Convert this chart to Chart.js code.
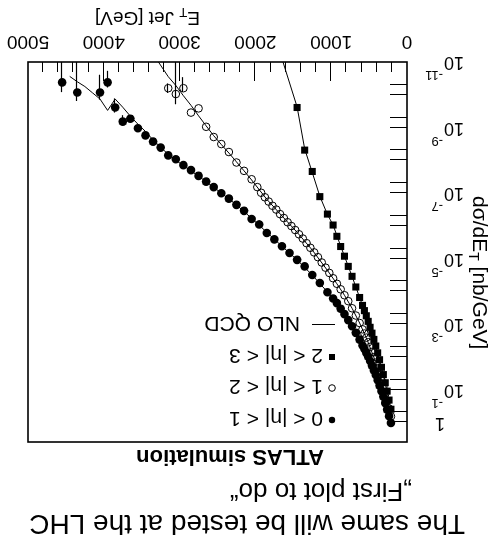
<!DOCTYPE html>
<html>
<head>
<meta charset="utf-8">
<title>Inclusive jet cross-section</title>
<script src="https://cdn.jsdelivr.net/npm/chart.js@4.4.1/dist/chart.umd.min.js"></script>
<style>
html,body{margin:0;padding:0;background:#fff;overflow:hidden;}
#wrap{position:absolute;left:0;top:0;width:493px;height:549px;transform:rotate(180deg);}
#c{display:block;}
</style>
</head>
<body>
<div id="wrap"><canvas id="c" width="493" height="549"></canvas></div>
<script>
// ---- data (E_T in GeV, dsigma/dE_T in nb/GeV) ----
const etCentral = [212,237,262,287,312,337,362,387,412,437,462,487,512,537,562,587,
  625,675,725,775,825,875,925,975,
  1050,1150,1250,1350,1450,1550,1650,1750,1850,1950,2050,2150,2250,2350,2450,2550,2650,2750,2850,2950,
  3050,3150,3250,3350,3450,3550,3650,3750,3850,3950,4050,4350,4550];
const xsCentral = [1.05,0.65,0.41,0.26,0.166,0.112,0.076,0.052,0.036,0.026,0.0186,0.0135,0.0100,7.6e-3,5.8e-3,4.5e-3,
  3.0e-3,1.86e-3,1.17e-3,7.6e-4,5.0e-4,3.4e-4,2.3e-4,1.66e-4,
  1.07e-4,5.6e-5,3.2e-5,1.74e-5,1.10e-5,6.8e-6,4.2e-6,2.6e-6,1.66e-6,9.1e-7,6.2e-7,3.5e-7,2.3e-7,1.48e-7,1.02e-7,6.6e-8,4.5e-8,3.0e-8,2.0e-8,1.41e-8,
  9.3e-9,7.1e-9,4.1e-9,2.7e-9,1.74e-9,1.05e-9,5.4e-10,6.6e-10,2.45e-10,4.2e-11,8.5e-11,8.5e-11,4.2e-11];

const etMid = [212,237,262,287,312,337,362,387,412,437,462,487,512,537,562,587,
  625,675,725,775,825,875,925,975,
  1025,1075,1125,1175,1225,1275,1325,1375,1425,1475,1525,1575,1625,1675,1725,1775,1825,1875,1925,1975,
  2050,2150,2250,2350,2450,2550,2650,2750,2850,2950,3050,3150];
const xsMid = [0.66,0.38,0.224,0.135,0.083,0.052,0.034,0.0224,0.0151,0.0102,7.1e-3,5.0e-3,3.6e-3,2.6e-3,1.95e-3,1.45e-3,
  9.3e-4,5.5e-4,3.3e-4,2.0e-4,1.32e-4,8.7e-5,5.9e-5,4.0e-5,
  2.75e-5,1.9e-5,1.32e-5,9.1e-6,6.5e-6,4.7e-6,3.4e-6,2.45e-6,1.82e-6,1.35e-6,1.02e-6,7.8e-7,5.8e-7,4.4e-7,3.2e-7,2.45e-7,1.82e-7,1.35e-7,9.8e-8,6.6e-8,
  3.8e-8,2.1e-8,1.17e-8,5.6e-9,3.2e-9,1.95e-9,9.5e-10,2.6e-10,3.5e-10,6.3e-11,9.5e-11,6.3e-11];

const etFwd = [212,237,262,287,312,337,362,387,412,437,462,487,512,537,562,587,
  625,675,725,775,825,875,925,975,1050,1150,1250,1350,1450];
const xsFwd = [0.40,0.21,0.112,0.062,0.035,0.021,0.0123,7.6e-3,4.7e-3,2.95e-3,1.9e-3,1.26e-3,8.3e-4,5.6e-4,3.9e-4,2.7e-4,
  1.55e-4,7.4e-5,3.5e-5,1.74e-5,8.5e-6,4.3e-6,2.1e-6,9.5e-7,4.4e-7,1.29e-7,2.2e-8,4.9e-9,2.45e-10];

// NLO QCD curves
const nloCentralE = [212,325,425,525,625,725,825,925,1050,1250,1450,1650,1850,2050,2250,2450,2650,2850,3050,3150,3250,3350,3450,3550,3650,3750,3850,3950,4050,4150,4250,4350,4450];
const nloCentral = [1.05,0.135,0.030,8.7e-3,3.0e-3,1.17e-3,5.0e-4,2.3e-4,1.05e-4,3.2e-5,1.10e-5,4.2e-6,1.58e-6,5.9e-7,2.3e-7,1.0e-7,4.5e-8,2.1e-8,1.0e-8,6.6e-9,4.0e-9,2.4e-9,1.32e-9,7.9e-10,4.5e-10,2.4e-10,1.35e-10,3.0e-10,1.35e-10,8.7e-11,5.6e-11,4.0e-11,2.75e-11];
const nloMidE = [212,325,425,525,625,725,825,925,1050,1250,1450,1650,1850,1950,2050,2150,2250,2350,2450,2550,2650,2750,2850,2950,3050,3150,3300];
const nloMid = [0.66,0.066,0.0123,3.1e-3,9.3e-4,3.3e-4,1.32e-4,5.9e-5,2.3e-5,5.5e-6,1.58e-6,5.0e-7,1.55e-7,7.9e-8,4.0e-8,2.1e-8,1.12e-8,6.0e-9,3.3e-9,1.78e-9,8.9e-10,4.4e-10,2.1e-10,1.07e-10,5.2e-11,2.8e-11,8.5e-12];
const nloFwdE = [212,325,425,525,625,725,825,875,925,975,1050,1150,1250,1350,1450,1650];
const nloFwd = [0.40,0.027,3.7e-3,6.9e-4,1.55e-4,3.5e-5,8.5e-6,4.2e-6,2.0e-6,9.5e-7,4.5e-7,1.26e-7,2.35e-8,4.5e-9,2.35e-10,7.9e-12];

// statistical error bars (low / high edges)
const errCentralE  = [3750,3850,3950,4050,4350,4550];
const errCentralLo = [4.2e-10,1.29e-10,1.86e-11,2.45e-11,1e-12,1e-12];
const errCentralHi = [7.9e-10,3.5e-10,6.0e-11,1.41e-10,1.55e-10,8.3e-11];
const errMidE  = [2950,3050,3150];
const errMidLo = [2.9e-11,1e-12,4.5e-11];
const errMidHi = [8.3e-11,1.95e-10,8.8e-11];

// axis ticks / labels
const xTickLabels = [0,1000,2000,3000,4000,5000];
const yLabelExps = [-11,-9,-7,-5,-3,-1];
const legendLabels = ['0 < |\u03b7| < 1','1 < |\u03b7| < 2','2 < |\u03b7| < 3','NLO QCD'];
const titleLines = ['The same will be tested at the LHC','\u201EFirst plot to do\u201C','ATLAS simulation'];

const FONT = '"Liberation Sans", Arial, Helvetica, sans-serif';
function pts(xs, ys){ return xs.map((x,i)=>({x:x, y:ys[i]})); }

const decor = {
  id:'decor',
  beforeDatasetsDraw(chart){
    const {ctx, chartArea:a, scales:{x,y}} = chart;
    ctx.save();
    ctx.beginPath(); ctx.rect(a.left,a.top,a.right-a.left,a.bottom-a.top); ctx.clip();
    ctx.strokeStyle='#000'; ctx.lineWidth=1.2;
    [[errCentralE,errCentralLo,errCentralHi],[errMidE,errMidLo,errMidHi]].forEach(([E,L,H])=>{
      E.forEach((e,i)=>{
        const px = Math.round(x.getPixelForValue(e))+0.5;
        ctx.beginPath();
        ctx.moveTo(px, y.getPixelForValue(L[i]));
        ctx.lineTo(px, y.getPixelForValue(H[i]));
        ctx.stroke();
      });
    });
    ctx.restore();
  },
  afterDraw(chart){
    const {ctx, chartArea:a, scales:{x,y}} = chart;
    ctx.save();
    ctx.fillStyle='#000'; ctx.strokeStyle='#000';
    // x ticks (inside, from bottom)
    ctx.lineWidth=1;
    for(let v=200; v<5000; v+=200){
      const px = Math.round(x.getPixelForValue(v))+0.5;
      const len = (v%1000===0)?19:10;
      ctx.beginPath(); ctx.moveTo(px,a.bottom); ctx.lineTo(px,a.bottom-len); ctx.stroke();
    }
    // y ticks (inside, from left)
    for(let e=-11; e<=0; e++){
      [1,5].forEach(m=>{
        const v = m*Math.pow(10,e);
        if(v>=y.max || v<=y.min) return;
        const py = Math.round(y.getPixelForValue(v))+0.5;
        ctx.beginPath(); ctx.moveTo(a.left,py); ctx.lineTo(a.left+17,py); ctx.stroke();
      });
    }
    // frame
    ctx.lineWidth=1.6;
    ctx.strokeRect(a.left,a.top,a.right-a.left,a.bottom-a.top);
    // x labels
    ctx.font='19px '+FONT; ctx.textAlign='center'; ctx.textBaseline='alphabetic';
    xTickLabels.forEach(v=>{ ctx.fillText(String(v), x.getPixelForValue(v), 513); });
    // y labels
    ctx.textAlign='left';
    yLabelExps.forEach(e=>{
      const py = y.getPixelForValue(Math.pow(10,e));
      ctx.font='18px '+FONT;
      ctx.fillText('10', 29, py+5);
      const w = ctx.measureText('10').width;
      ctx.font='13px '+FONT;
      ctx.fillText('-'+String(-e), 29+w+1, py-9);
    });
    ctx.font='18px '+FONT;
    ctx.fillText('1', 48, y.getPixelForValue(1)+4);
    // x title
    ctx.font='19px '+FONT;
    let tx=293;
    ctx.fillText('E',tx,537); tx+=ctx.measureText('E').width;
    ctx.font='13px '+FONT; ctx.fillText('T',tx,541); tx+=ctx.measureText('T').width;
    ctx.font='19px '+FONT; ctx.fillText(' Jet [GeV]',tx,537);
    // y title
    ctx.save();
    ctx.translate(20,353); ctx.rotate(-Math.PI/2);
    ctx.font='21px '+FONT;
    let ty=0;
    ctx.fillText('d\u03c3/dE',0,0); ty+=ctx.measureText('d\u03c3/dE').width;
    ctx.font='14px '+FONT; ctx.fillText('T',ty,4); ty+=ctx.measureText('T').width;
    ctx.font='21px '+FONT; ctx.fillText(' [nb/GeV]',ty,0);
    ctx.restore();
    // legend
    const mx=161;
    const rows=[129,161,192,224];
    ctx.font='21px '+FONT;
    ctx.beginPath(); ctx.arc(mx,rows[0],3.2,0,2*Math.PI); ctx.fill();
    ctx.fillText(legendLabels[0],170,rows[0]+7.5);
    ctx.lineWidth=1;
    ctx.beginPath(); ctx.arc(mx,rows[1],3.3,0,2*Math.PI); ctx.stroke();
    ctx.fillText(legendLabels[1],170,rows[1]+7.5);
    ctx.fillRect(mx-3,rows[2]-3,6,6);
    ctx.fillText(legendLabels[2],170,rows[2]+7.5);
    ctx.beginPath(); ctx.moveTo(158,rows[3]+0.5); ctx.lineTo(181,rows[3]+0.5); ctx.stroke();
    ctx.fillText(legendLabels[3],193,rows[3]+7.5);
    // titles
    ctx.font='28px '+FONT; ctx.fillText(titleLines[0],28,34);
    ctx.font='26px '+FONT; ctx.fillText(titleLines[1],81,66);
    ctx.font='bold 22px '+FONT; ctx.fillText(titleLines[2],169,99);
    ctx.restore();
  }
};

new Chart(document.getElementById('c'),{
  type:'scatter',
  data:{datasets:[
    {label:legendLabels[0], data:pts(etCentral,xsCentral), pointStyle:'circle', pointRadius:4.3, backgroundColor:'#000', borderColor:'#000', borderWidth:0, showLine:false},
    {label:legendLabels[1], data:pts(etMid,xsMid), pointStyle:'circle', pointRadius:3.8, backgroundColor:'rgba(0,0,0,0)', borderColor:'#000', borderWidth:1, showLine:false},
    {label:legendLabels[2], data:pts(etFwd,xsFwd), pointStyle:'rect', pointRadius:5, backgroundColor:'#000', borderColor:'#000', borderWidth:0, showLine:false},
    {label:'NLO 1', data:pts(nloCentralE,nloCentral), showLine:true, pointRadius:0, borderColor:'#000', borderWidth:1, tension:0, fill:false},
    {label:'NLO 2', data:pts(nloMidE,nloMid), showLine:true, pointRadius:0, borderColor:'#000', borderWidth:1, tension:0, fill:false},
    {label:'NLO 3', data:pts(nloFwdE,nloFwd), showLine:true, pointRadius:0, borderColor:'#000', borderWidth:1, tension:0, fill:false}
  ]},
  options:{
    responsive:false, animation:false, devicePixelRatio:1, events:[],
    layout:{padding:{left:86,right:28,top:107,bottom:62}},
    plugins:{legend:{display:false}, tooltip:{enabled:false}, title:{display:false}},
    scales:{
      x:{type:'linear', min:0, max:5000, display:false},
      y:{type:'logarithmic', min:1e-11, max:4, display:false}
    }
  },
  plugins:[decor]
});
</script>
</body>
</html>
